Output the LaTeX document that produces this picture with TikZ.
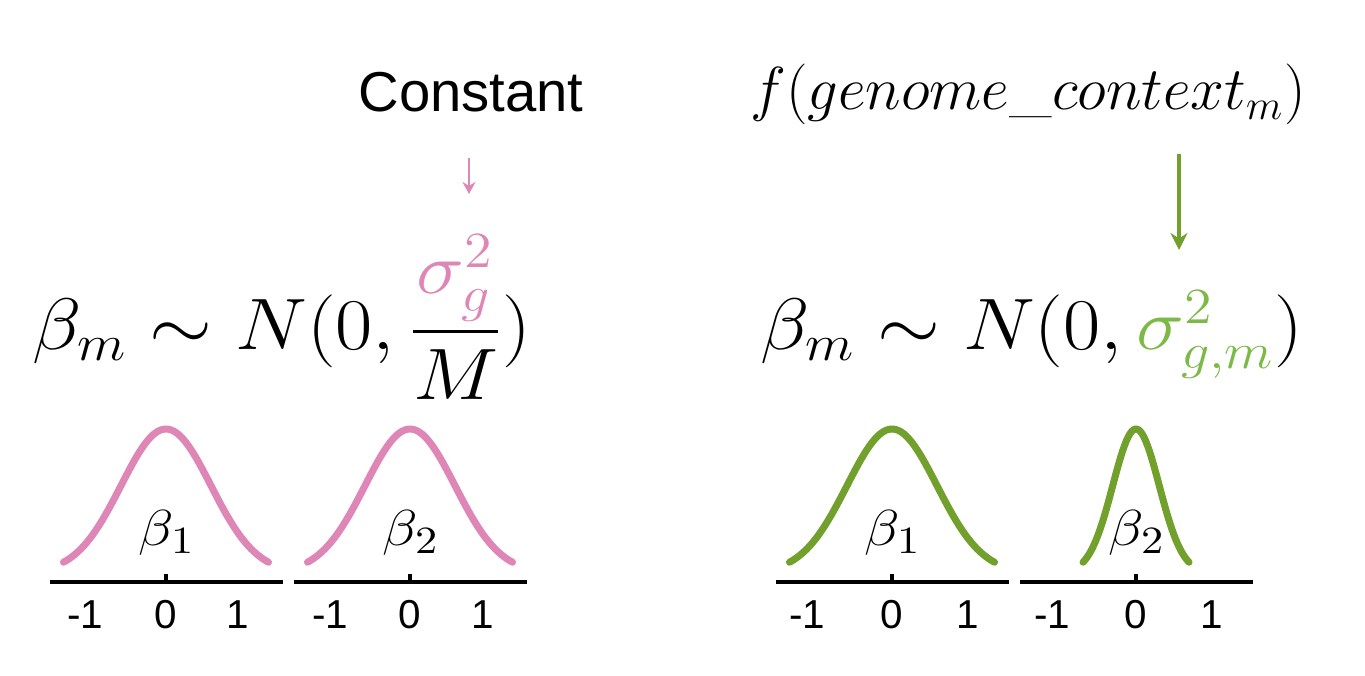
\documentclass[tikz,border=0pt]{standalone}
\usepackage{amsmath}
\usepackage{fontspec}
\usetikzlibrary{arrows.meta}
\newfontfamily\arialfont{Liberation Sans}
\definecolor{bellpink}{RGB}{222,134,182}
\definecolor{bellgreen}{RGB}{114,160,44}
\definecolor{sigmagreen}{RGB}{125,185,70}
\newcommand{\widemath}[2]{\scalebox{#1}[1]{#2}}
\begin{document}
\begin{tikzpicture}[
    pinkcurve/.style = {line width=2pt,bellpink,line cap=round},
    greencurve/.style = {line width=2pt,bellgreen,line cap=round},
    axisline/.style = {line width=0.9pt,black},
    ticklabel/.style = {font=\arialfont\fontsize{11.5}{13}\selectfont,inner sep=0pt},
    betalabel/.style = {font=\fontsize{15}{18}\selectfont,inner sep=0pt},
    bigformula/.style = {font=\fontsize{22}{26}\selectfont,inner sep=0pt,anchor=base}
  ]
  \useasboundingbox (0,0) rectangle (13.65,6.75);

  \node[font=\arialfont\fontsize{16}{19}\selectfont,anchor=base] (const) at (4.71,5.63) {Constant};
  \node[font=\fontsize{17.5}{21}\selectfont,anchor=base] (context) at (10.28,5.65) {$f(genome\_context_m)$};

  \node[bigformula] (leftprior) at (2.82,3.25) {\widemath{1.11}{$\beta_m \sim N(0, \dfrac{\textcolor{bellpink}{\sigma_g^2}}{M})$}};
  \node[bigformula] (rightprior) at (10.32,3.25) {\widemath{1.11}{$\beta_m \sim N(0, \textcolor{sigmagreen}{\sigma_{g,m}^2})$}};

  \coordinate (pinkstart) at (4.69,5.17);
  \coordinate (pinkend) at (4.69,4.81);
  \draw[bellpink,line width=0.6pt,-{Stealth[length=0.12cm,width=0.13cm]}] (pinkstart) -- (pinkend);
  \coordinate (greenstart) at (11.79,5.21);
  \coordinate (greenend) at (11.79,4.25);
  \draw[bellgreen,line width=0.9pt,-{Stealth[length=0.17cm,width=0.17cm]}] (greenstart) -- (greenend);

  % constant variance
  \draw[pinkcurve] plot[domain=-1.025:1.025,samples=60] ({1.66+\x},{1.02+1.44*exp(-((\x)^2)/0.405)});
  \draw[pinkcurve] plot[domain=-1.025:1.025,samples=60] ({4.10+\x},{1.02+1.44*exp(-((\x)^2)/0.405)});
  \draw[axisline] (0.50,0.93) -- (2.83,0.93);
  \draw[axisline] (2.94,0.93) -- (5.27,0.93);
  \draw[axisline] (1.66,0.93) -- (1.66,1.01);
  \draw[axisline] (4.10,0.93) -- (4.10,1.01);

  % variance per marker
  \draw[greencurve] plot[domain=-1.025:1.025,samples=60] ({8.92+\x},{1.02+1.44*exp(-((\x)^2)/0.405)});
  \draw[greencurve] plot[domain=-1.025:1.025,samples=60] ({11.36+0.517*\x},{1.02+1.44*exp(-((\x)^2)/0.405)});
  \draw[axisline] (7.76,0.93) -- (10.09,0.93);
  \draw[axisline] (10.20,0.93) -- (12.53,0.93);
  \draw[axisline] (8.92,0.93) -- (8.92,1.01);
  \draw[axisline] (11.36,0.93) -- (11.36,1.01);

  \node[betalabel] (pinkb1) at (1.67,1.42) {\widemath{1.15}{$\beta_1$}};
  \node[betalabel] (pinkb2) at (4.11,1.42) {\widemath{1.15}{$\beta_2$}};
  \node[betalabel] (greenb1) at (8.93,1.42) {\widemath{1.15}{$\beta_1$}};
  \node[betalabel] (greenb2) at (11.37,1.42) {\widemath{1.15}{$\beta_2$}};

  \node[ticklabel] (pa1) at (0.85,0.60) {-1};
  \node[ticklabel] (pa2) at (1.66,0.60) {0};
  \node[ticklabel] (pa3) at (2.38,0.60) {1};
  \node[ticklabel] (pb1) at (3.30,0.60) {-1};
  \node[ticklabel] (pb2) at (4.10,0.60) {0};
  \node[ticklabel] (pb3) at (4.83,0.60) {1};
  \node[ticklabel] (ga1) at (8.07,0.60) {-1};
  \node[ticklabel] (ga2) at (8.92,0.60) {0};
  \node[ticklabel] (ga3) at (9.68,0.60) {1};
  \node[ticklabel] (gb1) at (10.52,0.60) {-1};
  \node[ticklabel] (gb2) at (11.36,0.60) {0};
  \node[ticklabel] (gb3) at (12.12,0.60) {1};
\end{tikzpicture}
\end{document}
